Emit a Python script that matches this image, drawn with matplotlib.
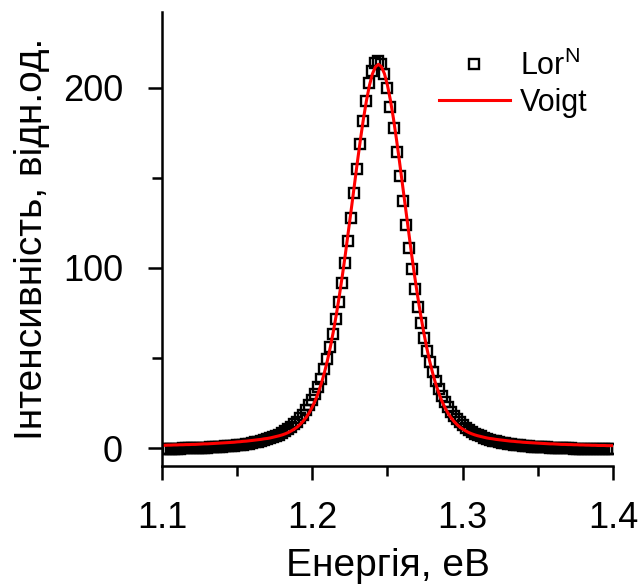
import numpy as np
import matplotlib
matplotlib.use('Agg')
import matplotlib.pyplot as plt

plt.rcParams['font.family'] = ['Liberation Sans', 'DejaVu Sans']
plt.rcParams['mathtext.default'] = 'regular'

# energy grid, step 0.002 eV
energy = np.arange(151) * 0.002 + 1.1

lor_n = [-0.5, -0.5, -0.4, -0.4, -0.4, -0.3, -0.3, -0.2, -0.2, -0.1,
         -0.1, -0.0, 0.0, 0.1, 0.2, 0.2, 0.3, 0.4, 0.5, 0.6,
         0.7, 0.9, 1.0, 1.2, 1.3, 1.5, 1.7, 1.9, 2.2, 2.5,
         2.7, 3.1, 3.4, 3.8, 4.3, 4.8, 5.3, 6.0, 6.7, 7.4,
         8.3, 9.3, 10.4, 11.6, 13.1, 14.7, 16.5, 18.5, 20.9, 23.6,
         26.6, 30.1, 34.0, 38.5, 43.7, 49.5, 56.1, 63.5, 71.8, 81.2,
         91.5, 102.7, 114.9, 127.8, 141.3, 155.0, 168.5, 181.3, 192.8, 202.4,
         209.5, 213.8, 215.0, 212.9, 207.7, 199.7, 189.5, 177.6, 164.5, 150.9,
         137.2, 123.9, 111.2, 99.2, 88.3, 78.3, 69.2, 61.2, 54.0, 47.7,
         42.1, 37.1, 32.8, 29.0, 25.7, 22.7, 20.2, 17.9, 15.9, 14.2,
         12.6, 11.3, 10.0, 9.0, 8.0, 7.2, 6.4, 5.8, 5.2, 4.6,
         4.1, 3.7, 3.3, 3.0, 2.7, 2.4, 2.1, 1.9, 1.7, 1.5,
         1.3, 1.1, 1.0, 0.8, 0.7, 0.6, 0.5, 0.4, 0.3, 0.2,
         0.1, 0.1, 0.0, -0.0, -0.1, -0.2, -0.2, -0.3, -0.3, -0.3,
         -0.4, -0.4, -0.4, -0.5, -0.5, -0.5, -0.5, -0.6, -0.6, -0.6,
         -0.6]

voigt = [1.5, 1.5, 1.6, 1.6, 1.7, 1.7, 1.8, 1.8, 1.9, 1.9,
         2.0, 2.0, 2.1, 2.2, 2.3, 2.3, 2.4, 2.5, 2.6, 2.7,
         2.8, 2.9, 3.0, 3.1, 3.2, 3.4, 3.5, 3.7, 3.8, 4.0,
         4.2, 4.4, 4.6, 4.8, 5.1, 5.3, 5.6, 6.0, 6.4, 6.8,
         7.3, 7.9, 8.6, 9.5, 10.5, 11.7, 13.2, 15.0, 17.1, 19.7,
         22.8, 26.4, 30.8, 35.8, 41.7, 48.4, 56.1, 64.7, 74.2, 84.6,
         95.8, 107.7, 120.2, 133.1, 146.1, 158.9, 171.2, 182.7, 192.8, 201.3,
         207.7, 211.6, 213.0, 211.6, 207.7, 201.3, 192.8, 182.7, 171.2, 158.9,
         146.1, 133.1, 120.2, 107.7, 95.8, 84.6, 74.2, 64.7, 56.1, 48.4,
         41.7, 35.8, 30.8, 26.4, 22.8, 19.7, 17.1, 15.0, 13.2, 11.7,
         10.5, 9.5, 8.6, 7.9, 7.3, 6.8, 6.4, 6.0, 5.6, 5.3,
         5.1, 4.8, 4.6, 4.4, 4.2, 4.0, 3.8, 3.7, 3.5, 3.4,
         3.2, 3.1, 3.0, 2.9, 2.8, 2.7, 2.6, 2.5, 2.4, 2.3,
         2.3, 2.2, 2.1, 2.0, 2.0, 1.9, 1.9, 1.8, 1.8, 1.7,
         1.7, 1.6, 1.6, 1.5, 1.5, 1.4, 1.4, 1.4, 1.3, 1.3,
         1.3]

xticks = [1.1, 1.2, 1.3, 1.4]
yticks = [0, 100, 200]

fig = plt.figure(figsize=(6.4, 5.87), dpi=100)
ax = fig.add_axes([0.2531, 0.2061, 0.7047, 0.7734])

ax.plot(energy, lor_n, ls='none', marker='s', ms=7.3, mfc='none',
        mec='black', mew=1.7, label='Lor$^{N}$')
ax.plot(energy, voigt, color='red', lw=2.2, label='Voigt')

ax.set_xlim(1.1, 1.4)
ax.set_ylim(-10, 242)
ax.set_xticks(xticks)
ax.set_xticklabels(['1.1', '1.2', '1.3', '1.4'])
ax.set_yticks(yticks)
ax.set_xticks([1.15, 1.25, 1.35], minor=True)
ax.set_yticks([50, 150], minor=True)

for s in ['top', 'right']:
    ax.spines[s].set_visible(False)
for s in ['left', 'bottom']:
    ax.spines[s].set_linewidth(1.8)

ax.tick_params(which='major', direction='out', length=10, width=1.8,
               labelsize=26)
ax.tick_params(which='minor', direction='out', length=7, width=1.8)
ax.tick_params(axis='x', which='major', pad=15)
ax.tick_params(axis='y', which='major', pad=18)

ax.set_xlabel('Енергія, еВ', fontsize=28, labelpad=9)
ax.set_ylabel('Інтенсивність, відн.од.', fontsize=28, labelpad=9)

ax.legend(loc='upper left', bbox_to_anchor=(0.615, 0.915), frameon=False,
          fontsize=22, handlelength=2.3, handletextpad=0.35,
          labelspacing=0.2, borderpad=0, borderaxespad=0)

fig.savefig('out.png', dpi=100)
